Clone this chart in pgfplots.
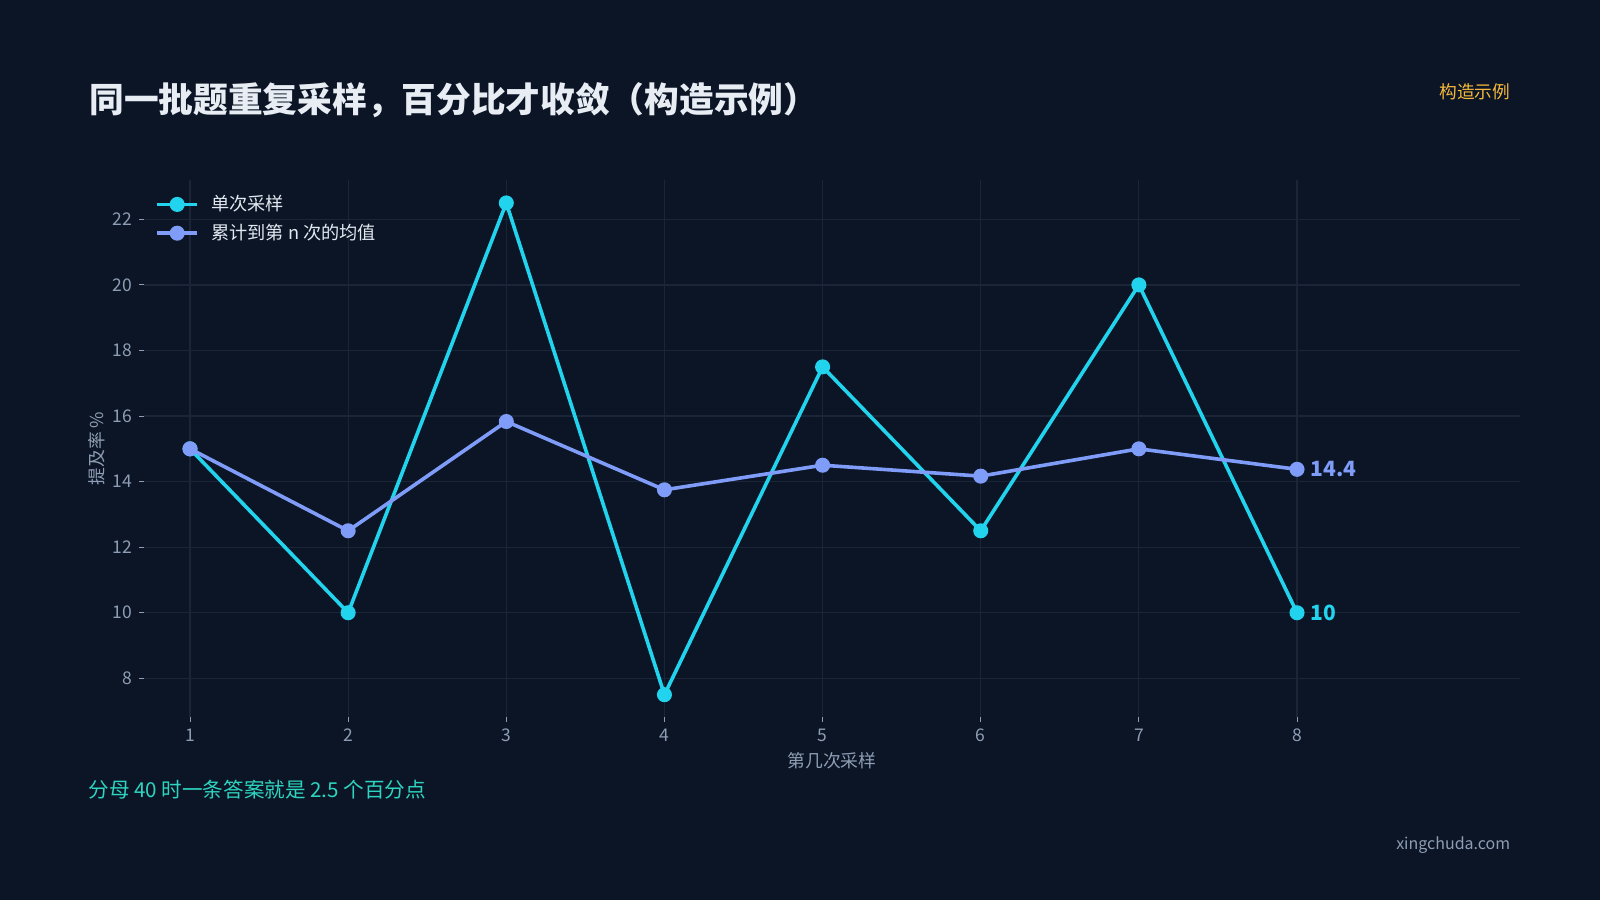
\documentclass[border=0pt]{standalone}
\usepackage{pgfplots}
\pgfplotsset{compat=1.18}
\usepackage{fontspec}
\setmainfont{Noto Sans CJK SC}

\definecolor{bgc}{HTML}{0B1526}
\definecolor{gridc}{HTML}{1A2638}
\definecolor{tickc}{HTML}{8E9DB4}
\definecolor{cyanc}{HTML}{22D3EE}
\definecolor{indigoc}{HTML}{7F9CF8}
\definecolor{titlec}{HTML}{E8EDF4}
\definecolor{legc}{HTML}{E2E8F0}
\definecolor{notec}{HTML}{2DD4BF}
\definecolor{amberc}{HTML}{F6B93B}

% single sample and running mean (percent)
\pgfplotstableread{
n single mean
1 15   15
2 10   12.5
3 22.5 15.833
4 7.5  13.75
5 17.5 14.5
6 12.5 14.167
7 20   15
8 10   14.375
}\samples

\begin{document}
\begin{tikzpicture}[x=1pt,y=1pt]
\useasboundingbox (0,0) rectangle (800,450);
\fill[bgc] (0,0) rectangle (800,450);

\node[anchor=west, inner sep=0pt, text=titlec, font=\fontsize{17.35}{20}\selectfont\bfseries]
  at (44.5,400) {同一批题重复采样，百分比才收敛（构造示例）};
\node[anchor=east, inner sep=0pt, text=amberc, font=\fontsize{8.85}{10}\selectfont]
  at (755.3,404) {构造示例};
\node[anchor=west, inner sep=0pt, text=notec, font=\fontsize{10.3}{12}\selectfont]
  at (44,55) {分母 40 时一条答案就是 2.5 个百分点};
\node[anchor=east, inner sep=0pt, text=tickc, font=\fontsize{8}{10}\selectfont]
  at (755.3,27.5) {xingchuda.com};

\begin{axis}[
    at={(72pt,91.5pt)}, anchor=south west,
    scale only axis, width=688pt, height=268.5pt,
    xmin=0.709, xmax=9.41, ymin=6.82, ymax=23.2,
    xtick={1,2,3,4,5,6,7,8}, ytick={8,10,12,14,16,18,20,22},
    xtick pos=bottom, ytick pos=left,
    axis line style={draw=none},
    grid=major, grid style={draw=gridc, line width=0.6pt},
    tick align=outside, major tick length=2.5pt,
    tick style={draw=tickc, line width=0.5pt},
    ticklabel style={font=\fontsize{8.75}{10}\selectfont, text=tickc},
    /pgf/number format/assume math mode=true,
    xlabel={第几次采样}, ylabel={提及率 \%},
    label style={font=\fontsize{8.9}{10}\selectfont, text=tickc},
    xlabel style={at={(axis description cs:0.5,-0.0814)}, anchor=center},
    ylabel style={at={(axis description cs:-0.0342,0.5)}, anchor=center},
    legend style={at={(axis description cs:0.008,0.982)}, anchor=north west,
        draw=none, fill=none, inner sep=0pt,
        font=\fontsize{9.1}{10}\selectfont, text=legc,
        nodes={inner sep=2.6pt},
        /tikz/every odd column/.append style={column sep=3.5pt}},
    legend cell align=left,
    legend image code/.code={
        \draw[mark repeat=2,mark phase=2,#1] plot coordinates {(0pt,0pt) (10pt,0pt) (20pt,0pt)};
    },
    every axis plot/.append style={line width=1.8pt, mark=*, mark size=2.85pt},
]
\addplot[cyanc, mark options={fill=cyanc, draw=none}] table[x=n, y=single] {\samples};
\addlegendentry{单次采样}
\addplot[indigoc, mark options={fill=indigoc, draw=none}] table[x=n, y=mean] {\samples};
\addlegendentry{累计到第 n 次的均值}

\node[anchor=west, xshift=6.6pt, inner sep=0pt, text=indigoc, font=\fontsize{10.5}{13}\selectfont\bfseries]
  at (axis cs:8,14.375) {14.4};
\node[anchor=west, xshift=6.6pt, inner sep=0pt, text=cyanc, font=\fontsize{10.5}{13}\selectfont\bfseries]
  at (axis cs:8,10) {10};
\end{axis}
\end{tikzpicture}
\end{document}
